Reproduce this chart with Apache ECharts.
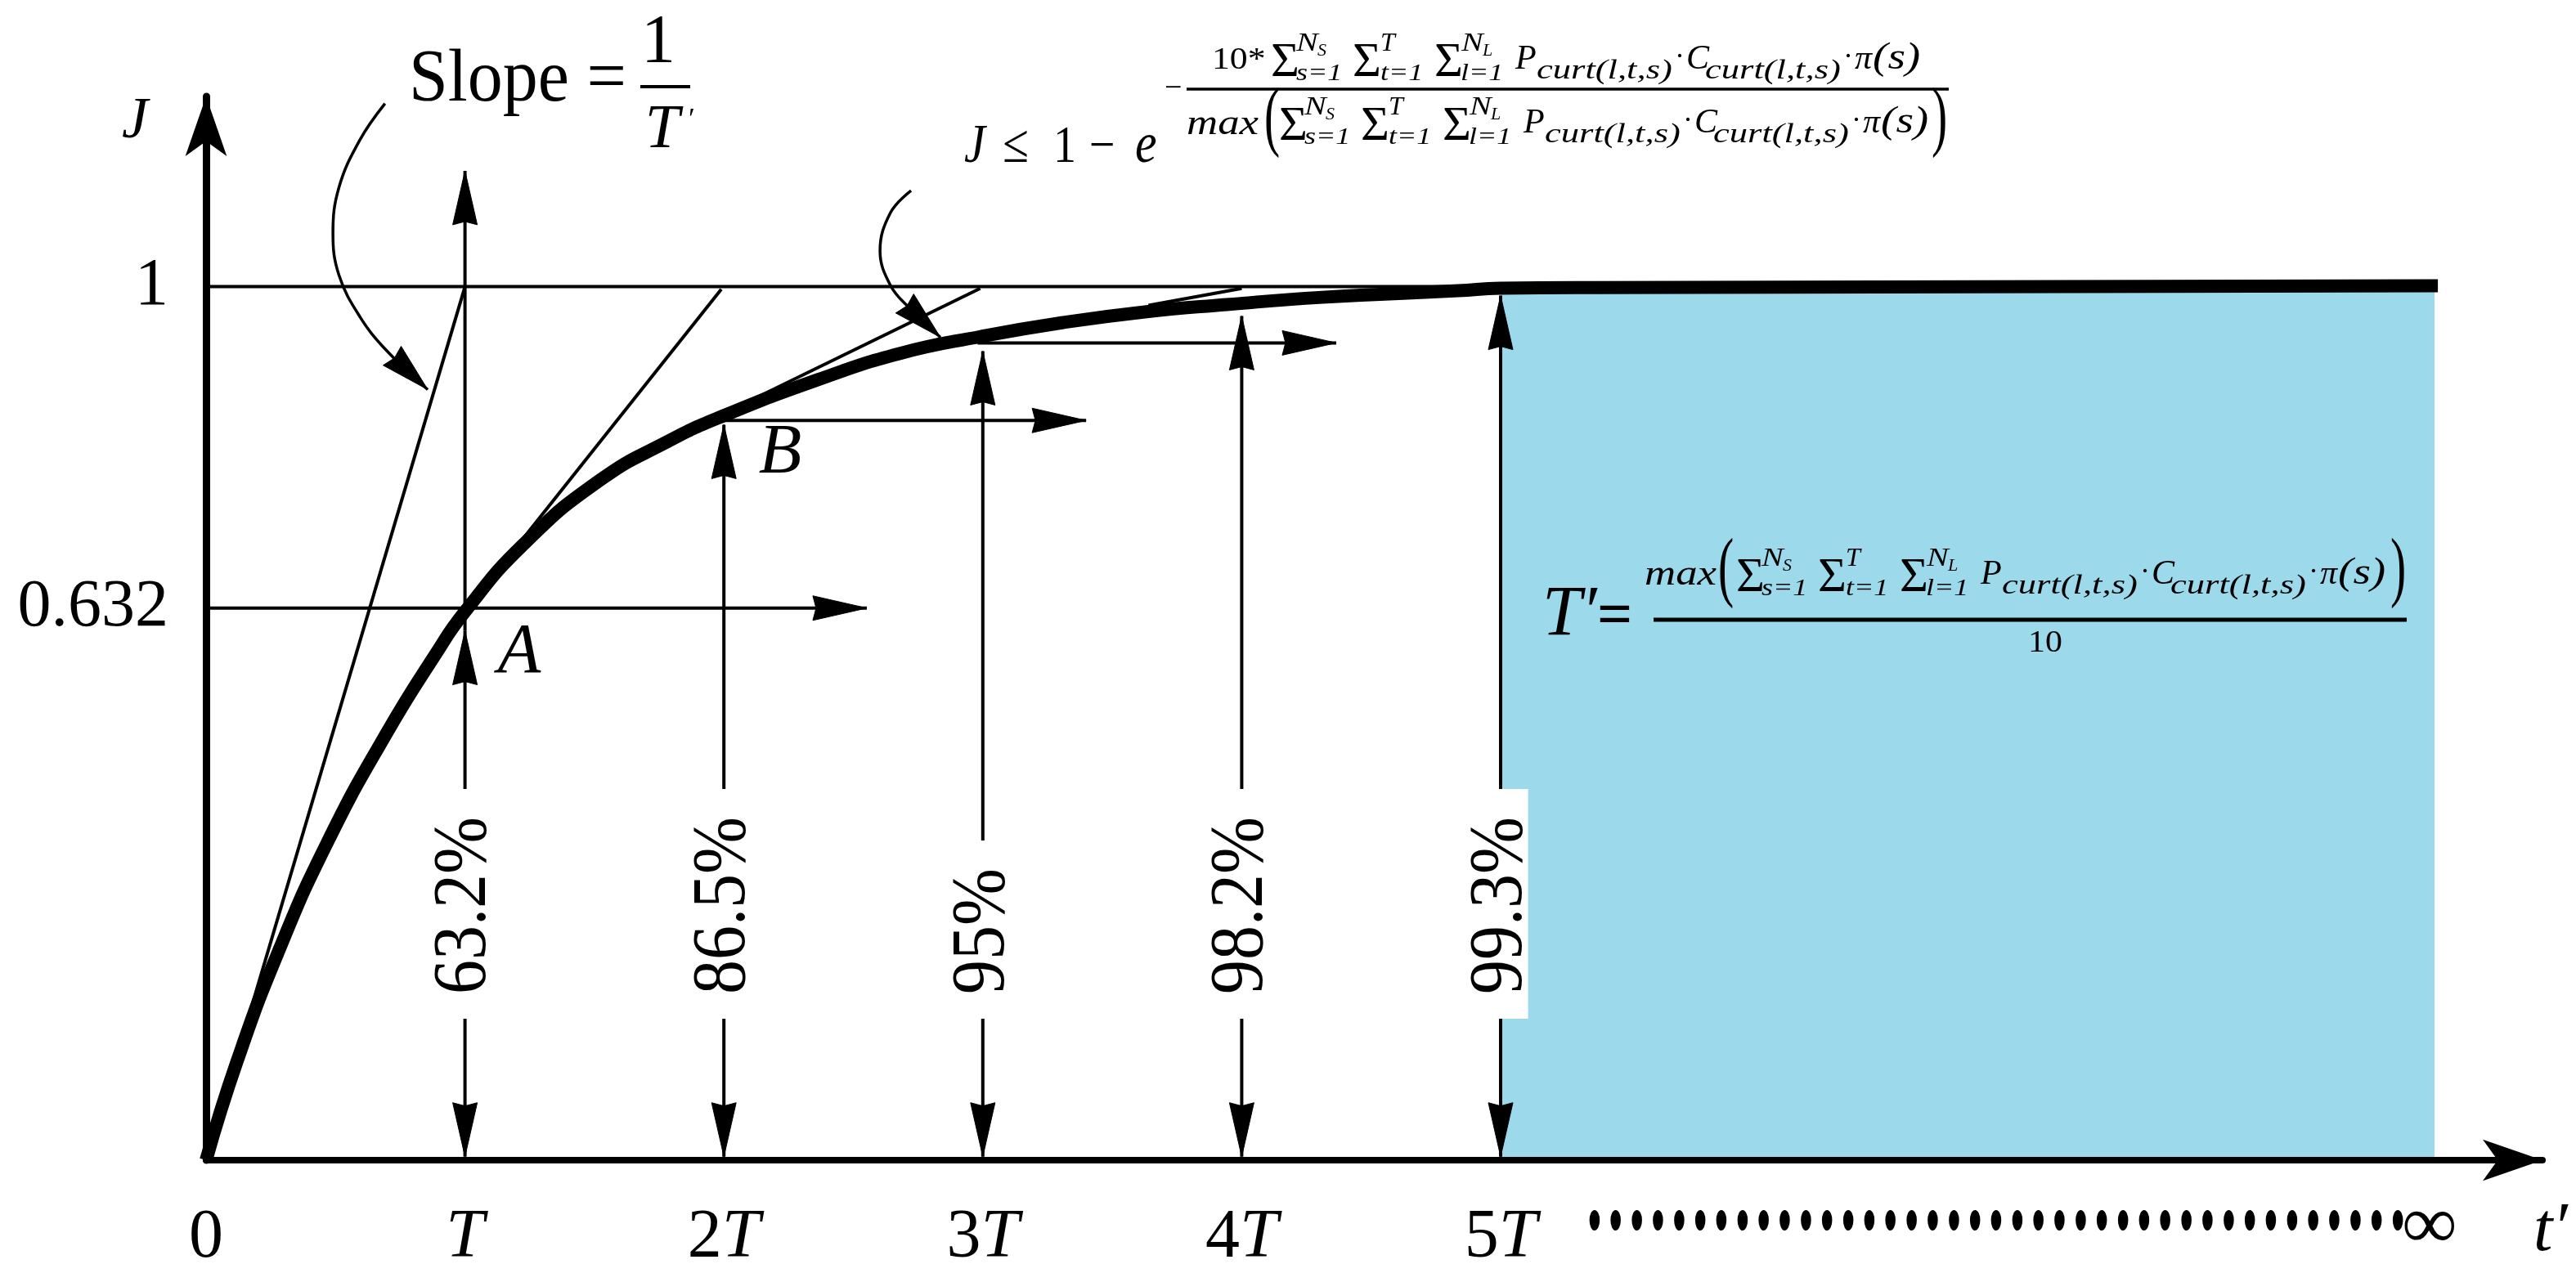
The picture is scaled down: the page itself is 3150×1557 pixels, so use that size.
<!DOCTYPE html>
<html>
<head>
<meta charset="utf-8">
<style>html,body{margin:0;padding:0;background:#fff}#c{width:3150px;height:1557px}</style>
<script src="https://cdn.jsdelivr.net/npm/echarts@6/dist/echarts.min.js"></script>
</head>
<body>
<div id="c"></div>
<script>
// ---- data (x in units of T, y = J) ----
const xTickLabels = ['0', 'T', '2T', '3T', '4T', '5T'];
const xTickValues = [0, 1, 2, 3, 4, 5];
const yTickValues = [0.632, 1];
const curveT = [0, 0.12, 0.278, 0.467, 0.694, 0.888, 1.0, 1.226, 1.519, 1.785, 1.993, 2.363, 2.678, 2.994, 3.31, 3.626, 3.942, 4.311, 4.836, 5, 5.363, 8.62];
const curveJ = [0, 0.1135, 0.2377, 0.3629, 0.4872, 0.58, 0.628, 0.705, 0.778, 0.823, 0.8515, 0.8935, 0.9234, 0.943, 0.9589, 0.9711, 0.9795, 0.9878, 0.9953, 0.9981, 0.999, 1.001];
const blueRegion = [[5, 1], [8.607, 1]];
const thinLines = [
  [0, 0, 1, 1],
  [1.22, 0.71, 1.99, 0.997],
  [2.05, 0.862, 2.99, 0.998],
  [3.64, 0.9785, 4.0, 0.998],
  [0, 1, 5, 1]
];
const straightArrows = [
  [0, 0.632, 2.552, 0.632],
  [2, 0.8468, 3.399, 0.8468],
  [2.98, 0.9356, 4.365, 0.9356],
  [1, 0.19, 1, 0.606],
  [1, 0.606, 1, 1.1326],
  [2, 0.19, 2, 0.842],
  [3, 0.19, 3, 0.9262],
  [4, 0.19, 4, 0.9664],
  [5, 0.19, 5, 0.9897],
  [1, 0.19, 1, 0.004],
  [2, 0.19, 2, 0.004],
  [3, 0.19, 3, 0.004],
  [4, 0.19, 4, 0.004],
  [5, 0.19, 5, 0.004]
];
const slopeCallout = [[0.691, 1.2097], [0.594, 1.168], [0.513, 1.1134], [0.49, 1.061], [0.513, 1.0134], [0.594, 0.9656], [0.695, 0.9275], [0.856, 0.8822]];
const boundCallout = [[2.723, 1.11], [2.644, 1.085], [2.603, 1.041], [2.644, 1.001], [2.716, 0.9757], [2.836, 0.9421]];
const percentLabels = [[1, 0.162, '63.2%'], [2, 0.162, '86.5%'], [3, 0.162, '95%'], [4, 0.162, '98.2%'], [5, 0.162, '99.3%']];
const pointLabels = [[1.21, 0.5796, 'A'], [2.217, 0.8083, 'B']];

// ---- helpers ----
const SERIF = '"Liberation Serif"';
const font = (size, italic, bold) => (italic ? 'italic ' : '') + (bold ? 'bold ' : '') + size + 'px ' + SERIF;
const gfx = [];
function put(text, x, base, size, o) {
  o = o || {};
  const sy = o.sy || 1;
  gfx.push({
    type: 'text', z: 100, silent: true,
    x: x, y: base - 0.3375 * size * sy,
    scaleX: o.sx || 1, scaleY: sy,
    style: { text: text, x: 0, y: 0, font: font(size, o.i, o.b), fill: '#000', textAlign: o.align || 'left', textVerticalAlign: 'middle' }
  });
}
function bar(x0, x1, y, h) {
  gfx.push({ type: 'rect', z: 100, silent: true, shape: { x: x0, y: y - h / 2, width: x1 - x0, height: h }, style: { fill: '#000' } });
}
function sumExpr(x0, b) {
  const S = 60, SUP = 32, SUB = 30, M = 42, C = 33;
  [0, 100, 200].forEach(dx => put('Σ', x0 + dx, b, S));
  put('N', x0 + 31, b - 33, SUP, { i: 1, sx: 1.25 });
  put('S', x0 + 57, b - 27, 22, { i: 1 });
  put('T', x0 + 134, b - 33, SUP, { i: 1 });
  put('N', x0 + 233, b - 33, SUP, { i: 1, sx: 1.25 });
  put('L', x0 + 259, b - 27, 22, { i: 1 });
  put('s=1', x0 + 31, b + 3, SUB, { i: 1, sx: 1.2 });
  put('t=1', x0 + 134, b + 3, SUB, { i: 1, sx: 1.2 });
  put('l=1', x0 + 232, b + 3, SUB, { i: 1, sx: 1.2 });
  put('P', x0 + 299, b - 10, M, { i: 1 });
  put('curt(l,t,s)', x0 + 325, b + 1, C, { i: 1, sx: 1.35 });
  put('·', x0 + 494, b - 14, 36);
  put('C', x0 + 508, b - 10, M, { i: 1 });
  put('curt(l,t,s)', x0 + 531, b + 1, C, { i: 1, sx: 1.35 });
  put('·', x0 + 700, b - 14, 36);
  put('π', x0 + 714, b - 10, M, { i: 1 });
  put('(s)', x0 + 736, b - 10, 46, { i: 1, sx: 1.2 });
}
function bigParen(text, x, b) { put(text, x, b, 96, { sx: 0.6 }); }

// Slope = 1/T'
put('Slope =', 500, 130, 86, { sy: 1.05 });
put('1', 805, 82, 84, { align: 'center' });
bar(783, 844, 106, 4);
put('T', 810, 186, 76, { i: 1, align: 'center' });
put('′', 842, 160, 36);
// J <= 1 - e^(...)
put('J', 1179, 203, 58, { i: 1, sy: 1.15 });
put('≤', 1226, 203, 58, { sy: 1.15 });
put('1', 1288, 203, 56, { sy: 1.15 });
put('−', 1332, 203, 56, { sy: 1.15 });
put('e', 1388, 203, 60, { i: 1, sy: 1.15 });
put('−', 1424, 122, 38);
put('10*', 1482, 87, 38, { sx: 1.15 });
sumExpr(1554, 97);
bar(1451, 2383, 109, 3.5);
put('max', 1451, 167, 44, { i: 1, sx: 1.2 });
bigParen('(', 1546, 180);
sumExpr(1564, 175);
bigParen(')', 2362, 180);
// T' = max(...)/10
put('T′', 1886, 782, 86, { i: 1 });
put('=', 1953, 782, 76, { b: 1 });
put('max', 2011, 718, 44, { i: 1, sx: 1.2 });
bigParen('(', 2101, 731);
sumExpr(2123, 727);
bigParen(')', 2923, 731);
bar(2022, 2943, 758, 5);
put('10', 2480, 800, 38, { sx: 1.1 });
// dots to infinity, and the t' axis title
put('·'.repeat(39), 1937, 1556, 77.5, { sy: 2, b: 1 });
put('∞', 2938, 1533, 92, { b: 1 });
put('t′', 3098, 1535, 84, { i: 1 });

function barbedHead(p, dx, dy, len, wid, st) {
  const n = Math.hypot(dx, dy) || 1, ux = dx / n, uy = dy / n, vx = -uy, vy = ux;
  const bx = p[0] - ux * len, by = p[1] - uy * len;
  return {
    type: 'polygon',
    shape: { points: [p, [bx + vx * wid / 2, by + vy * wid / 2], [bx + ux * 4, by + uy * 4], [bx - vx * wid / 2, by - vy * wid / 2]] },
    style: st
  };
}
const INK = { fill: '#000', stroke: '#000', lineWidth: 1 };

const curveData = curveT.map((t, i) => [t, curveJ[i]]);

const option = {
  animation: false,
  backgroundColor: '#fff',
  grid: { left: 252, right: 41, top: 118, bottom: 135.5, containLabel: false },
  xAxis: {
    type: 'value', min: 0, max: 9.024, z: 10,
    axisLine: { onZero: false, symbol: ['none', 'arrow'], symbolSize: [38, 73], lineStyle: { color: '#000', width: 8 } },
    axisTick: { show: false }, splitLine: { show: false },
    axisLabel: {
      customValues: xTickValues, margin: 54, color: '#000', fontFamily: SERIF, fontSize: 84,
      formatter: v => {
        const s = xTickLabels[xTickValues.indexOf(v)] || '';
        if (s === '0') return '{n|0}';
        return s.length > 1 ? '{n|' + s[0] + '}{i|T}' : '{i|T}';
      },
      rich: {
        n: { fontFamily: SERIF, fontSize: 84, color: '#000' },
        i: { fontFamily: SERIF, fontSize: 84, fontStyle: 'italic', color: '#000' }
      }
    }
  },
  yAxis: {
    type: 'value', min: 0, max: 1.2177, z: 10,
    name: 'J', nameLocation: 'end', nameGap: -67,
    nameTextStyle: { fontFamily: SERIF, fontStyle: 'italic', fontSize: 72, color: '#000', padding: [0, 174, 0, 0] },
    axisLine: { onZero: false, symbol: ['none', 'arrow'], symbolSize: [38, 73], lineStyle: { color: '#000', width: 9 } },
    axisTick: { show: false }, splitLine: { show: false },
    axisLabel: { customValues: yTickValues, margin: 46, color: '#000', fontFamily: SERIF, fontSize: 82, formatter: v => String(v) }
  },
  graphic: { z: 100, elements: gfx },
  series: [
    {
      name: 'region', type: 'line', z: 1, data: blueRegion, symbol: 'none',
      lineStyle: { width: 0 }, areaStyle: { color: '#9BD9EB', opacity: 1 }, silent: true
    },
    {
      name: 'tangents', type: 'custom', z: 3, data: thinLines, clip: false, silent: true,
      encode: { x: [0, 2], y: [1, 3] },
      renderItem: (p, api) => {
        const a = api.coord([api.value(0), api.value(1)]), b = api.coord([api.value(2), api.value(3)]);
        return { type: 'line', shape: { x1: a[0], y1: a[1], x2: b[0], y2: b[1] }, style: { stroke: '#000', lineWidth: 4 } };
      }
    },
    {
      name: 'arrows', type: 'custom', z: 4, data: straightArrows, clip: false, silent: true,
      encode: { x: [0, 2], y: [1, 3] },
      renderItem: (p, api) => {
        const a = api.coord([api.value(0), api.value(1)]), b = api.coord([api.value(2), api.value(3)]);
        const dx = b[0] - a[0], dy = b[1] - a[1];
        return {
          type: 'group', children: [
            { type: 'line', shape: { x1: a[0], y1: a[1], x2: b[0], y2: b[1] }, style: { stroke: '#000', lineWidth: 4 } },
            barbedHead(b, dx, dy, 66, 30, INK)
          ]
        };
      }
    },
    ...[slopeCallout, boundCallout].map((pts, k) => ({
      name: 'callout' + k, type: 'custom', z: 4, data: pts, clip: false, silent: true,
      encode: { x: 0, y: 1 },
      renderItem: (p, api) => {
        if (p.dataIndex !== pts.length - 1) return null;
        const px = pts.map(q => api.coord(q));
        const e = px[px.length - 1], f = px[px.length - 2];
        return {
          type: 'group', children: [
            { type: 'polyline', shape: { points: px, smooth: 0.4 }, style: { stroke: '#000', fill: null, lineWidth: 3.5 } },
            barbedHead(e, e[0] - f[0], e[1] - f[1], 60, 32, INK)
          ]
        };
      }
    })),
    {
      name: 'J(t)', type: 'line', z: 5, data: curveData, symbol: 'none', smooth: 0.5, clip: false, silent: true,
      lineStyle: { color: '#000', width: 16, cap: 'butt', join: 'round' }
    },
    {
      name: 'percent', type: 'custom', z: 6, data: percentLabels, clip: false, silent: true,
      encode: { x: 0, y: 1 },
      renderItem: (p, api) => {
        const c = api.coord([api.value(0), api.value(1)]);
        return {
          type: 'text', x: c[0], y: c[1], rotation: Math.PI / 2, scaleY: 1.12,
          style: {
            text: percentLabels[p.dataIndex][2], font: font(84), fill: '#000', align: 'left', verticalAlign: 'middle',
            backgroundColor: '#fff', padding: [0, 34, 0, 30], lineHeight: 60
          }
        };
      }
    },
    {
      name: 'points', type: 'custom', z: 6, data: pointLabels, clip: false, silent: true,
      encode: { x: 0, y: 1 },
      renderItem: (p, api) => {
        const c = api.coord([api.value(0), api.value(1)]);
        return { type: 'text', x: c[0], y: c[1], style: { text: pointLabels[p.dataIndex][2], font: font(86, true), fill: '#000', align: 'center', verticalAlign: 'middle' } };
      }
    }
  ]
};
echarts.init(document.getElementById('c'), null, { renderer: 'canvas' }).setOption(option);
</script>
</body>
</html>
